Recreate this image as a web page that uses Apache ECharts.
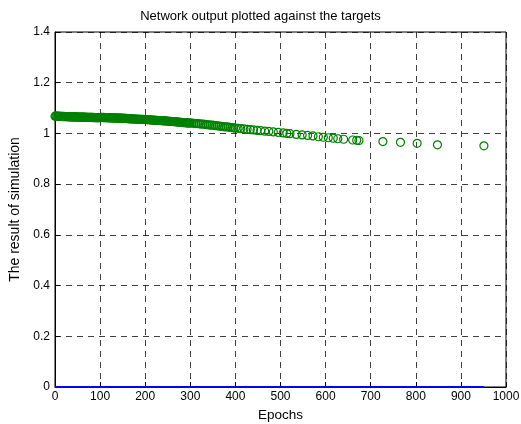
<!DOCTYPE html>
<html>
<head>
<meta charset="utf-8">
<script src="https://cdn.jsdelivr.net/npm/echarts@6/dist/echarts.min.js"></script>
<style>html,body{margin:0;padding:0;background:#fff;}#c{width:521px;height:424px;}</style>
</head>
<body>
<div id="c"></div>
<script>
const titleText = "Network output plotted against the targets";
const xLabel = "Epochs";
const yLabel = "The result of simulation";

const outputEpochs = [
0,2,4,6,8,10,12,14,16,18,20,22,24,26,28,30,32,34,36,38,40,42,44,46,48,50,52,54,56,58,60,62,64,66,68,70,72,74,76,78,80,82,84,86,88,90,92,94,96,98,100,
102,104,106,108,110,112,114,116,118,120,122,124,126,128,130,132,134,136,138,140,142,144,146,148,150,152,154,156,158,160,162,164,166,168,170,172,174,176,178,180,182,184,186,188,190,192,194,196,198,200,
202,204,206,208,210,212,214,216,218,220,222,224,226,228,230,232,234,236,238,240,242,244,246,248,250,252,254,256,258,260,262,264,266,268,270,272,274,276,278,280,282,284,286,288,290,292,294,296,298,300,
304,308,312,316,320,324,328,332,336,340,344,348,352,356,360,364,368,372,376,380,384,388,392,396,400,
406,412,419,426,433,440,448,456,465,474,484,495,506,514,521,
535,548,560,572,584,595,606,617,627,640,660,669,674,727,766,803,848,951];
const outputValues = [
1.068,1.068,1.068,1.067,1.068,1.067,1.067,1.067,1.067,1.066,1.067,
1.066,1.066,1.066,1.066,1.066,1.065,1.066,1.065,1.065,1.065,
1.065,1.065,1.065,1.064,1.065,1.064,1.064,1.064,1.064,1.064,
1.064,1.064,1.063,1.064,1.063,1.063,1.063,1.063,1.063,1.063,
1.063,1.062,1.063,1.062,1.062,1.062,1.062,1.062,1.062,1.062,
1.063,1.063,1.062,1.063,1.062,1.062,1.062,1.062,1.062,1.061,
1.062,1.061,1.061,1.061,1.061,1.061,1.060,1.061,1.060,1.060,
1.060,1.060,1.060,1.059,1.060,1.059,1.059,1.059,1.059,1.058,
1.058,1.058,1.058,1.057,1.058,1.057,1.057,1.057,1.057,1.056,
1.057,1.056,1.056,1.056,1.056,1.056,1.055,1.056,1.055,1.055,
1.055,1.054,1.054,1.054,1.054,1.053,1.053,1.053,1.053,1.052,
1.052,1.052,1.052,1.051,1.051,1.051,1.051,1.050,1.050,1.050,
1.049,1.050,1.049,1.049,1.048,1.048,1.048,1.048,1.047,1.047,
1.047,1.046,1.046,1.046,1.045,1.045,1.045,1.044,1.044,1.044,
1.043,1.043,1.043,1.043,1.042,1.042,1.042,1.041,1.042,1.041,
1.041,1.040,1.039,1.039,1.038,1.037,1.037,1.036,1.035,1.034,1.033,1.033,1.032,1.031,1.030,1.029,1.028,1.027,1.026,1.026,1.025,1.024,1.023,1.022,1.021,
1.020,1.019,1.018,1.016,1.015,1.014,1.012,1.011,1.009,1.008,1.006,1.004,1.002,1.000,0.999,
0.996,0.994,0.992,0.990,0.987,0.985,0.983,0.981,0.979,0.977,0.974,0.973,0.972,0.968,0.965,0.961,0.955,0.951];

const targetEpochs = [0,951];
const targetValues = [0,0];

const xTicks = {min:0,max:1000,interval:100};
const yTicks = {min:0,max:1.4,interval:0.2};

const chart = echarts.init(document.getElementById('c'), null, {renderer:'canvas'});
const font = "Liberation Sans";
chart.setOption({
  animation:false,
  backgroundColor:'#fff',
  title:{text:titleText,left:'center',top:5,textStyle:{fontFamily:font,fontSize:13,fontWeight:'normal',color:'#000'}},
  grid:{left:55,right:15,top:32,bottom:37,outerBoundsMode:'none',containLabel:false,show:true,borderColor:'#000',borderWidth:1,backgroundColor:'transparent'},
  xAxis:{type:'value',min:xTicks.min,max:xTicks.max,interval:xTicks.interval,
    name:xLabel,nameLocation:'middle',nameGap:21,nameTextStyle:{fontFamily:font,fontSize:13.5,color:'#000'},
    axisLine:{show:true,lineStyle:{color:'#000',width:1}},
    axisTick:{show:true,inside:true,length:5,lineStyle:{color:'#000'}},
    axisLabel:{fontFamily:font,fontSize:12,color:'#000',margin:4,formatter:v=>String(v)},
    splitLine:{show:true,lineStyle:{color:'#000',type:[6,5],width:1,opacity:0.75}}},
  yAxis:{type:'value',min:yTicks.min,max:yTicks.max,interval:yTicks.interval,
    name:yLabel,nameLocation:'middle',nameGap:28,nameTextStyle:{fontFamily:font,fontSize:14,color:'#000'},
    axisLine:{show:true,lineStyle:{color:'#000',width:1}},
    axisTick:{show:true,inside:true,length:5,lineStyle:{color:'#000'}},
    axisLabel:{fontFamily:font,fontSize:12,color:'#000',margin:5,formatter:v=>String(Math.round(v*10)/10)},
    splitLine:{show:true,lineStyle:{color:'#000',type:[6,5],width:1,opacity:0.75}}},
  series:[
    {type:'scatter',data:outputEpochs.map((x,i)=>[x,outputValues[i]]),symbol:'circle',symbolSize:8,large:false,
      itemStyle:{color:'rgba(0,0,0,0)',borderColor:'#008000',borderWidth:1.2,opacity:1},z:3},
    {type:'line',data:targetEpochs.map((x,i)=>[x,targetValues[i]]),symbol:'none',
      lineStyle:{color:'#0000ff',width:2},z:4,clip:false}
  ]
});
</script>
</body>
</html>
